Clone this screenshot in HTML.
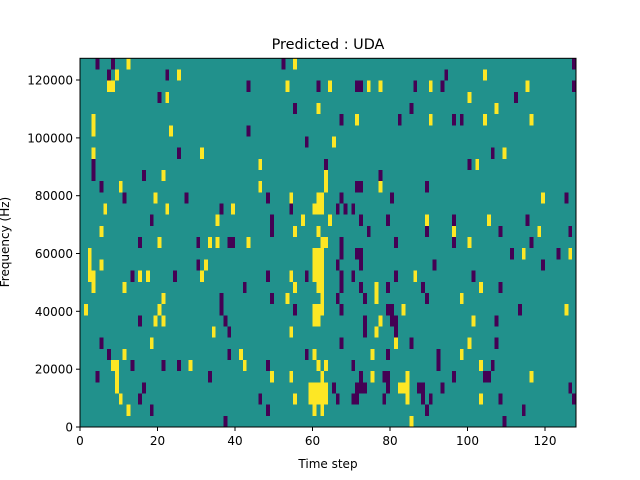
<!DOCTYPE html>
<html><head><meta charset="utf-8"><style>
html,body{margin:0;padding:0;background:#fff;}
svg{display:block;font-family:"DejaVu Sans","Liberation Sans",sans-serif;}
</style></head><body>
<svg id="s" width="640" height="480" viewBox="0 0 640 480" xmlns="http://www.w3.org/2000/svg">
<rect x="0" y="0" width="640" height="480" fill="#fff"/>
<rect x="80" y="58.3" width="496" height="368.7" fill="#21918c"/>
<g id="cells" shape-rendering="crispEdges"></g>
<rect x="80" y="58.3" width="496" height="368.7" fill="none" stroke="#000" stroke-width="1"/>
<g stroke="#000" stroke-width="1">
<line x1="80" y1="427" x2="80" y2="431"/><line x1="157.5" y1="427" x2="157.5" y2="431"/>
<line x1="235" y1="427" x2="235" y2="431"/><line x1="312.5" y1="427" x2="312.5" y2="431"/>
<line x1="390" y1="427" x2="390" y2="431"/><line x1="467.5" y1="427" x2="467.5" y2="431"/>
<line x1="545" y1="427" x2="545" y2="431"/>
<line x1="76" y1="427" x2="80" y2="427"/><line x1="76" y1="369.2" x2="80" y2="369.2"/>
<line x1="76" y1="311.3" x2="80" y2="311.3"/><line x1="76" y1="253.5" x2="80" y2="253.5"/>
<line x1="76" y1="195.7" x2="80" y2="195.7"/><line x1="76" y1="137.9" x2="80" y2="137.9"/>
<line x1="76" y1="80" x2="80" y2="80"/>
</g>
<g font-size="12" fill="#000" text-anchor="middle">
<text x="80" y="445">0</text><text x="157.5" y="445">20</text><text x="235" y="445">40</text>
<text x="312.5" y="445">60</text><text x="390" y="445">80</text><text x="467.5" y="445">100</text>
<text x="545" y="445">120</text>
</g>
<g font-size="12" fill="#000" text-anchor="end">
<text x="73" y="431.5">0</text><text x="73" y="373.7">20000</text><text x="73" y="315.8">40000</text>
<text x="73" y="258">60000</text><text x="73" y="200.2">80000</text><text x="73" y="142.4">100000</text>
<text x="73" y="84.5">120000</text>
</g>
<text x="328" y="468" font-size="12" text-anchor="middle">Time step</text>
<text x="328" y="49" font-size="14.4" text-anchor="middle">Predicted : UDA</text>
<text transform="translate(9,242) rotate(-90)" font-size="12" text-anchor="middle">Frequency (Hz)</text>
<g id="static"></g>
</svg>
<script>
var Y={0:[12,55],1:[9,25,104],2:[7,8,53,64,74,77,90,115],3:[22,100],4:[61,107],5:[3,71,90,104,116],6:[3,23],7:[65],8:[3,31,109],9:[46,102],10:[21,63],11:[10,46,63,77],12:[19,54,61,62,119],13:[6,22,39,60,61,62],14:[35,57,64,89,105],15:[5,55,61,96,118],16:[20,33,35,43,62,63,100],
17:[2,60,61,62,114,126],18:[2,5,32,60,61,62],19:[2,3,15,17,31,54,60,61,62,86],20:[3,11,55,61,62,76,103],21:[21,53,62,76,98],22:[1,20,60,61,62,83,125],23:[19,21,60,61,77,101],24:[34,54,76],25:[18,81,100],26:[11,41,60,75,98],27:[8,9,28,42,61,63,103],28:[9,49,54,62,75,84,116],29:[9,59,60,61,62,63,82,83,84],30:[10,55,59,60,61,62,63,84,103],31:[12,60,62],32:[85]};
var P={0:[4,8,52,127],1:[7,22,94],2:[43,61,71,72,86,93,127],3:[20,112],4:[55,85],5:[67,82,96,98],6:[43],7:[58],8:[25,106],9:[3,63,100],10:[3,16,77],11:[5,71,72,89],12:[11,27,48,67,80,125],13:[36,54,66,68,70],14:[18,49,72,79,96,115],15:[49,74,89,108,126],16:[15,30,38,39,67,81,96,116],
17:[67,71,72,111,123],18:[30,66,72,91,119],19:[13,24,48,58,67,70,81,101],20:[42,67,72,79,88,108],21:[36,49,66,73,89],22:[36,55,67,79,80,113],23:[15,37,73,80,81,107],24:[38,73,81],25:[5,67,85,107],26:[7,38,58,79,92],27:[13,21,25,48,70,92,106],28:[4,33,72,78,79,96,104,105],29:[16,65,71,72,73,79,87,88,93,126],30:[15,46,66,70,71,78,88,90,108,127],31:[18,48,89,114],32:[37,109]};
var g=document.getElementById('cells'),h='',cw=3.875,rh=368.7/33;
function add(m,c){for(var r in m){m[r].forEach(function(k){h+='<rect x="'+(80+k*cw).toFixed(2)+'" y="'+(58.3+r*rh).toFixed(2)+'" width="'+cw+'" height="'+rh.toFixed(2)+'" fill="'+c+'"/>';});}}
add(Y,'#fde725');add(P,'#440154');
g.innerHTML=h;
</script>
</body></html>
